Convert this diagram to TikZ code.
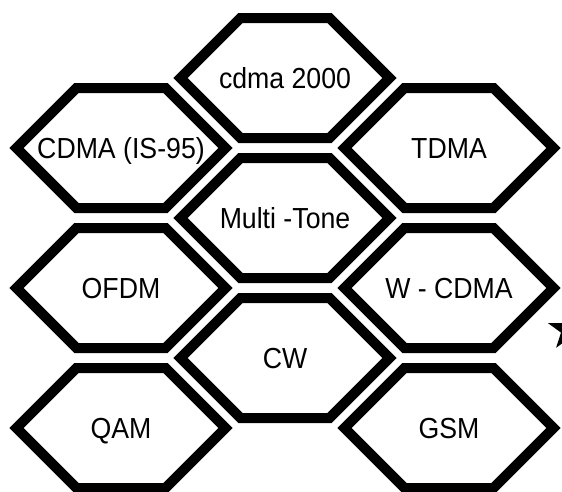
\documentclass[tikz,border=0pt]{standalone}
\usepackage{fontspec}
\setmainfont{Liberation Sans}[FakeStretch=0.92]
\usetikzlibrary{shapes.geometric}
\tikzset{
  hexline/.style={draw=black, line width=10pt, line join=miter},
  hexa/.pic={\path[hexline] (-104.5,0) -- (-44.5,-60) -- (44.5,-60) -- (104.5,0) -- (44.5,60) -- (-44.5,60) -- cycle;},
  label/.style={font=\fontsize{29}{31}\selectfont, inner sep=0pt, text=black, text height=20pt, text depth=0pt},
}
\begin{document}
\begin{tikzpicture}[x=1pt,y=-1pt]
\useasboundingbox (0,0) rectangle (562,491);
\clip (0,0) rectangle (562,491);
\node[label] (cdma) at (285,78) {cdma 2000};
\node[label] (is95) at (121,148) {CDMA (IS-95)};
\node[label] (tdma) at (449,148) {TDMA};
\node[label] (mt) at (285,218) {Multi -Tone};
\node[label] (ofdm) at (121,288) {OFDM};
\node[label] (wcdma) at (449,288) {W - CDMA};
\node[label] (cw) at (285,358) {CW};
\node[label] (qam) at (121,428) {QAM};
\node[label] (gsm) at (449,428) {GSM};
\foreach \n in {cdma,is95,tdma,mt,ofdm,wcdma,cw,qam,gsm}{
  \pic at (\n) {hexa};
}
\node[star, star points=5, star point ratio=2.618, minimum size=44pt, inner sep=0pt, fill=black] (star) at (569,330) {};
\end{tikzpicture}
\end{document}
